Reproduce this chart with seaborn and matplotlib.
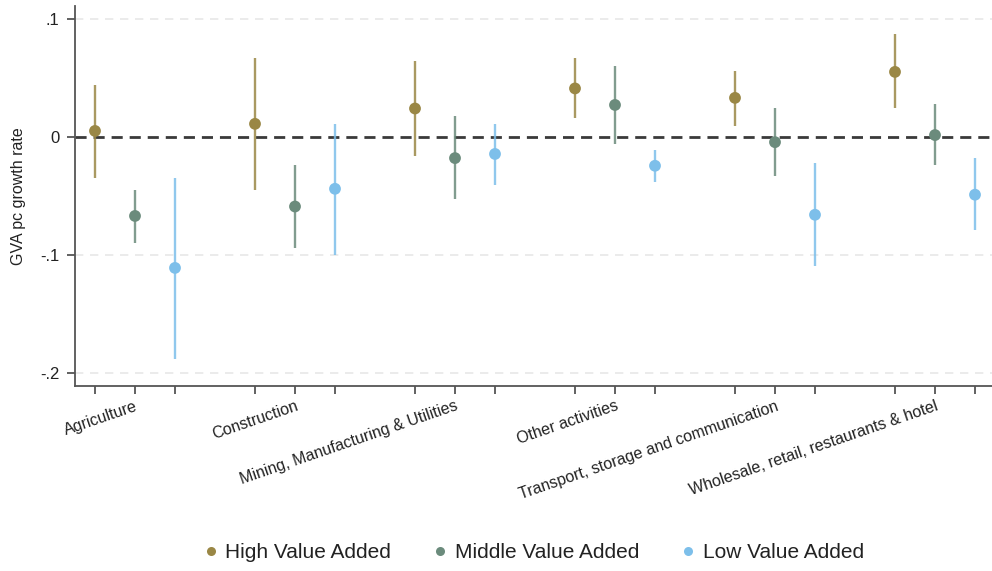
import matplotlib
matplotlib.use("Agg")
import matplotlib.pyplot as plt
import numpy as np
import pandas as pd
import seaborn as sns

# Sector names and value-added groups
sectors = [
    "Agriculture",
    "Construction",
    "Mining, Manufacturing & Utilities",
    "Other activities",
    "Transport, storage and communication",
    "Wholesale, retail, restaurants & hotel",
]
groups = ["High Value Added", "Middle Value Added", "Low Value Added"]

# Point estimates and 95% CI bounds, one list per group (ordered as sectors)
high_est = [0.005, 0.011, 0.024, 0.041, 0.033, 0.055]
high_lo = [-0.035, -0.045, -0.016, 0.016, 0.009, 0.024]
high_hi = [0.044, 0.067, 0.064, 0.067, 0.056, 0.087]

mid_est = [-0.067, -0.059, -0.018, 0.027, -0.0045, 0.0015]
mid_lo = [-0.090, -0.094, -0.053, -0.006, -0.033, -0.024]
mid_hi = [-0.045, -0.024, 0.018, 0.060, 0.024, 0.028]

low_est = [-0.111, -0.044, -0.0145, -0.0245, -0.066, -0.049]
low_lo = [-0.188, -0.100, -0.041, -0.038, -0.109, -0.079]
low_hi = [-0.035, 0.011, 0.011, -0.0115, -0.022, -0.018]

y_ticks = [0.1, 0.0, -0.1, -0.2]
y_tick_labels = [".1", "0", "-.1", "-.2"]

palette = {
    "High Value Added": "#9a8745",
    "Middle Value Added": "#6b8b7c",
    "Low Value Added": "#7dbfea",
}

# Long-format table: each sector gets a block of three slots, one per group
rows = []
for gi, (g, est, lo, hi) in enumerate(zip(
        groups,
        [high_est, mid_est, low_est],
        [high_lo, mid_lo, low_lo],
        [high_hi, mid_hi, low_hi])):
    for si, s in enumerate(sectors):
        rows.append({"sector": s, "group": g, "pos": si * 4 + gi,
                     "est": est[si], "lo": lo[si], "hi": hi[si]})
df = pd.DataFrame(rows)

sns.set_theme(style="white")
plt.rcParams["font.family"] = ["Liberation Sans", "DejaVu Sans"]

fig = plt.figure(figsize=(9.92, 5.71), dpi=100)
ax = fig.add_axes([75 / 992, 1 - 386 / 571, 1 - 75 / 992, 380 / 571])

# Light dashed grid lines and the dark zero reference line
for yv in y_ticks:
    if yv != 0:
        ax.axhline(yv, color="#e8e8e8", lw=1.2, ls=(0, (5, 4)), zorder=0)
ax.axhline(0, color="#3a3a3a", lw=2.0, ls=(0, (4, 2.5)), zorder=1)

# Confidence intervals
for g in groups:
    sub = df[df["group"] == g]
    ax.vlines(sub["pos"], sub["lo"], sub["hi"], color=palette[g],
              lw=1.7, alpha=0.85, zorder=2)

# Point estimates
sns.scatterplot(data=df, x="pos", y="est", hue="group", hue_order=groups,
                palette=palette, s=72, linewidth=0, ax=ax, zorder=3,
                legend=False)

ax.set_xlim(-0.5, (992 - 95) / 40)
ax.set_ylim(-0.211, 0.1108)

# Every slot gets a tick; only the middle slot of each sector carries its name
ticks = sorted(df["pos"].unique())
ax.set_xticks(ticks)
labels = [sectors[p // 4] if p % 4 == 1 else "" for p in ticks]
ax.set_xticklabels(labels, rotation=19, ha="right", va="top",
                   rotation_mode="anchor", fontsize=11.5, color="#222222")
ax.set_yticks(y_ticks)
ax.set_yticklabels(y_tick_labels, fontsize=12, color="#222222")

ax.tick_params(axis="both", which="both", direction="out", length=6,
               width=1.3, color="#555555", bottom=True, left=True)
ax.tick_params(axis="x", pad=3)
ax.tick_params(axis="y", pad=5)
ax.set_xlabel("")
ax.set_ylabel("")

for side in ["top", "right"]:
    ax.spines[side].set_visible(False)
for side in ["left", "bottom"]:
    ax.spines[side].set_color("#555555")
    ax.spines[side].set_linewidth(1.3)

fig.text(18.5 / 992, 1 - 196 / 571, "GVA pc growth rate", rotation=90,
         ha="center", va="center", fontsize=11.5, color="#222222")

# Legend below the plot area
handles = [plt.Line2D([], [], marker="o", ls="", markersize=6.5,
                      markerfacecolor=palette[g], markeredgewidth=0)
           for g in groups]
fig.legend(handles, groups, loc="center", bbox_to_anchor=(533 / 992, 1 - 553 / 571),
           ncol=3, frameon=False, fontsize=15, handlelength=0.8,
           handletextpad=0.3, columnspacing=1.95, labelcolor="#222222")

fig.savefig("out.png", dpi=100)
